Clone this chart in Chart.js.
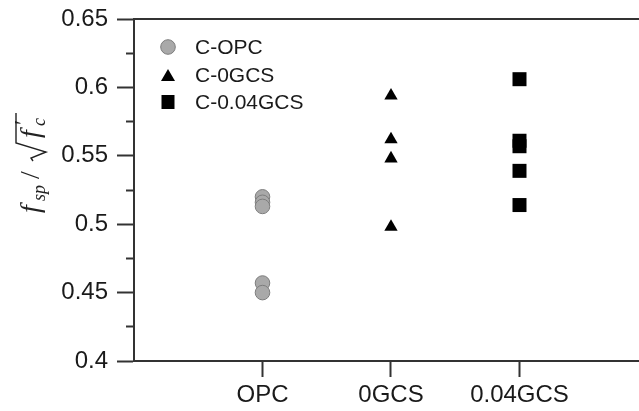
<!DOCTYPE html>
<html>
<head>
<meta charset="utf-8">
<script src="https://cdn.jsdelivr.net/npm/chart.js@4.4.0/dist/chart.umd.min.js"></script>
<style>
  html, body { margin: 0; padding: 0; background: #fff; }
  #wrap { width: 639px; height: 411px; }
</style>
</head>
<body>
<div id="wrap"><canvas id="chart" width="639" height="411"></canvas></div>
<script>
const categories = ['OPC', '0GCS', '0.04GCS'];
const seriesNames = ['C-OPC', 'C-0GCS', 'C-0.04GCS'];
const opcValues = [0.520, 0.516, 0.513, 0.457, 0.450];
const gcs0Values = [0.594, 0.562, 0.548, 0.498];
const gcs004Values = [0.606, 0.561, 0.557, 0.539, 0.514];
const yTickValues = [0.4, 0.45, 0.5, 0.55, 0.6, 0.65];
const yTickLabels = ['0.4', '0.45', '0.5', '0.55', '0.6', '0.65'];
const yMinorTicks = [0.425, 0.475, 0.525, 0.575, 0.625];

const SANS = '"Liberation Sans", Arial, sans-serif';
const SERIF = '"Liberation Serif", "Times New Roman", serif';
const INK = '#1a1a1a';
const AXIS = '#333';

// x position of each group = category index + 1
const toPoints = (vals, i) => vals.map(v => ({ x: i + 1, y: v }));

// legend drawn inside the plot, top-left
const insideLegend = {
  id: 'insideLegend',
  afterDraw(chart) {
    const ctx = chart.ctx;
    const x0 = 168, ys = [47, 75, 102];
    ctx.save();
    chart.data.datasets.forEach((ds, i) => {
      const y = ys[i];
      ctx.fillStyle = ds.backgroundColor;
      ctx.strokeStyle = ds.borderColor;
      ctx.lineWidth = 1;
      ctx.beginPath();
      if (ds.pointStyle === 'circle') {
        ctx.arc(x0, y, 7.3, 0, Math.PI * 2);
        ctx.fill();
        ctx.stroke();
      } else if (ds.pointStyle === 'triangle') {
        ctx.moveTo(x0, y - 6);
        ctx.lineTo(x0 + 7, y + 6);
        ctx.lineTo(x0 - 7, y + 6);
        ctx.closePath();
        ctx.fill();
      } else {
        ctx.rect(x0 - 6.5, y - 7, 13, 14);
        ctx.fill();
      }
      ctx.fillStyle = INK;
      ctx.font = '21px ' + SANS;
      ctx.textBaseline = 'middle';
      ctx.textAlign = 'left';
      ctx.fillText(ds.label, 195, y + 1);
    });
    ctx.restore();
  }
};

// top frame line
const topFrame = {
  id: 'topFrame',
  afterDraw(chart) {
    const { ctx, chartArea } = chart;
    ctx.save();
    ctx.strokeStyle = AXIS;
    ctx.lineWidth = 2;
    ctx.beginPath();
    ctx.moveTo(chartArea.left - 1, chartArea.top);
    ctx.lineTo(chartArea.right, chartArea.top);
    ctx.stroke();
    ctx.restore();
  }
};

// y title: f_sp / sqrt(f'_c), rotated
const mathTitle = {
  id: 'mathTitle',
  afterDraw(chart) {
    const ctx = chart.ctx;
    ctx.save();
    ctx.translate(39, 217);
    ctx.rotate(-Math.PI / 2);
    ctx.fillStyle = '#222';
    ctx.strokeStyle = '#222';
    ctx.textBaseline = 'alphabetic';
    ctx.textAlign = 'left';
    const big = 'italic 28px ' + SERIF;
    const small = 'italic 18px ' + SERIF;
    ctx.font = big;
    ctx.fillText('f', 4, 0);
    ctx.font = small;
    ctx.fillText('sp', 16, 6);
    ctx.font = '28px ' + SERIF;
    ctx.fillText('/', 38, 0);
    // radical sign
    ctx.lineWidth = 1.4;
    ctx.lineJoin = 'miter';
    ctx.beginPath();
    ctx.moveTo(56, -6);
    ctx.lineTo(59, -8);
    ctx.lineTo(65, 7);
    ctx.lineTo(74, -23);
    ctx.lineTo(104, -23);
    ctx.stroke();
    ctx.font = big;
    ctx.fillText('f', 79, 0);
    ctx.font = '24px ' + SERIF;
    ctx.fillText('\u2032', 92, -9);
    ctx.font = small;
    ctx.fillText('c', 91, 6);
    ctx.restore();
  }
};

new Chart(document.getElementById('chart'), {
  type: 'scatter',
  data: {
    datasets: [
      {
        label: seriesNames[0],
        data: toPoints(opcValues, 0),
        pointStyle: 'circle',
        pointRadius: 7.3,
        backgroundColor: '#a9a9a9',
        borderColor: '#7d7d7d',
        borderWidth: 1
      },
      {
        label: seriesNames[1],
        data: toPoints(gcs0Values, 1),
        pointStyle: 'triangle',
        pointRadius: 7.7,
        backgroundColor: '#000',
        borderColor: '#000',
        borderWidth: 0
      },
      {
        label: seriesNames[2],
        data: toPoints(gcs004Values, 2),
        pointStyle: 'rect',
        pointRadius: 9.9,
        backgroundColor: '#000',
        borderColor: '#000',
        borderWidth: 0
      }
    ]
  },
  options: {
    responsive: false,
    animation: false,
    devicePixelRatio: 1,
    layout: { autoPadding: false, padding: { top: 19, right: 0, left: 0, bottom: 0 } },
    plugins: {
      legend: { display: false },
      tooltip: { enabled: false }
    },
    scales: {
      x: {
        type: 'linear',
        position: 'bottom',
        min: 0,
        max: 3.93,
        afterBuildTicks: s => { s.ticks = categories.map((c, i) => ({ value: i + 1 })); },
        afterFit: s => { s.height = 50; s.paddingLeft = 0; s.paddingRight = 0; },
        ticks: {
          callback: v => categories[v - 1] || '',
          font: { family: SANS, size: 24 },
          color: INK,
          padding: 4,
          maxRotation: 0,
          autoSkip: false
        },
        grid: { drawOnChartArea: false, tickLength: 16, tickWidth: 2, tickColor: AXIS },
        border: { color: AXIS, width: 2 }
      },
      y: {
        position: 'left',
        weight: 1,
        min: 0.4,
        max: 0.65,
        afterBuildTicks: s => { s.ticks = yTickValues.map(v => ({ value: v })); },
        afterFit: s => { s.width = 134; s.paddingTop = 0; s.paddingBottom = 0; },
        ticks: {
          callback: (v, i) => yTickLabels[i],
          font: { family: SANS, size: 24 },
          color: INK,
          padding: 9
        },
        grid: { drawOnChartArea: false, tickLength: 17, tickWidth: 2, tickColor: AXIS },
        border: { color: AXIS, width: 2 }
      },
      yMinor: {
        position: 'left',
        weight: 0,
        min: 0.4,
        max: 0.65,
        afterBuildTicks: s => { s.ticks = yMinorTicks.map(v => ({ value: v })); },
        afterFit: s => { s.width = 0; },
        ticks: { display: false },
        grid: { drawOnChartArea: false, tickLength: 8, tickWidth: 2, tickColor: AXIS },
        border: { display: false }
      }
    }
  },
  plugins: [insideLegend, topFrame, mathTitle]
});
</script>
</body>
</html>
